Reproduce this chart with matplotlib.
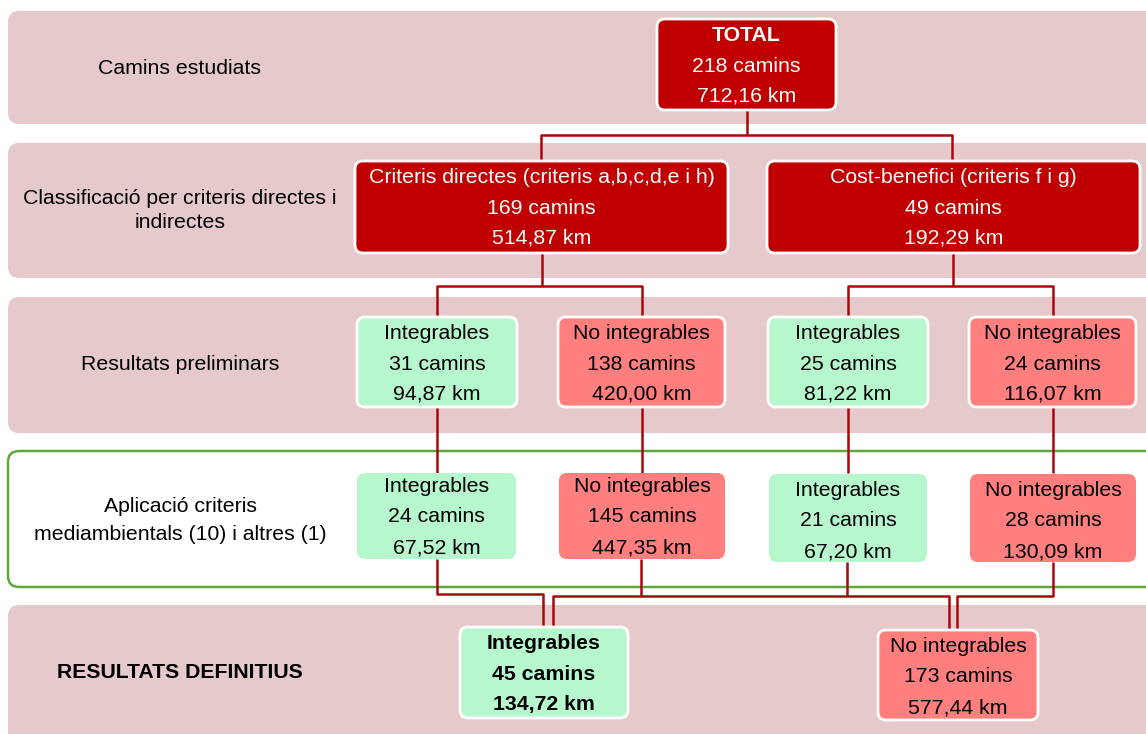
import matplotlib
matplotlib.use('Agg')
import matplotlib.pyplot as plt
from matplotlib.patches import FancyBboxPatch

# Dades del diagrama
titols_nivell = ['Camins estudiats',
                 'Classificació per criteris directes i\nindirectes',
                 'Resultats preliminars',
                 'Aplicació criteris\nmediambientals (10) i altres (1)',
                 'RESULTATS DEFINITIUS']
titols_caixa = ['TOTAL',
                'Criteris directes (criteris a,b,c,d,e i h)', 'Cost-benefici (criteris f i g)',
                'Integrables', 'No integrables', 'Integrables', 'No integrables',
                'Integrables', 'No integrables', 'Integrables', 'No integrables',
                'Integrables', 'No integrables']
camins = [218, 169, 49, 31, 138, 25, 24, 24, 145, 21, 28, 45, 173]
km = [712.16, 514.87, 192.29, 94.87, 420.00, 81.22, 116.07, 67.52, 447.35, 67.20, 130.09,
      134.72, 577.44]

# Colors
rosa = '#E6CACB'
vermell_fosc = '#C00000'
verd = '#B6F7CE'
vermell_clar = '#FF7F7F'
linia = '#A80808'
verd_vora = '#5FA83A'

# caixes: x0, y0, amplada, alçada (pixels)
caixes = [(657, 19, 179, 91),
          (355, 161, 373, 92), (767, 161, 373, 92),
          (357, 317, 160, 90), (558, 317, 167, 90), (768, 317, 160, 90), (969, 317, 167, 90),
          (357, 473, 159, 86), (559, 473, 166, 86), (769, 474, 158, 88), (970, 474, 166, 88),
          (460, 627, 168, 91), (878, 630, 160, 90)]

fig = plt.figure(figsize=(11.46, 7.34), dpi=100)
ax = fig.add_axes([0, 0, 1, 1])
ax.set_xlim(0, 1146)
ax.set_ylim(734, 0)
ax.axis('off')

plt.rcParams['font.family'] = ['Liberation Sans', 'DejaVu Sans']
fs = 15.3

# franges de fons
franges = [(11, 113), (143, 135), (297, 136), (451, 136), (605, 140)]
for i, (y0, h) in enumerate(franges):
    if i == 3:
        p = FancyBboxPatch((8, y0), 1160, h, boxstyle='round,pad=0,rounding_size=11',
                           fc='white', ec=verd_vora, lw=1.8, zorder=1)
    else:
        p = FancyBboxPatch((8, y0), 1160, h, boxstyle='round,pad=0,rounding_size=11',
                           fc=rosa, ec='none', zorder=1)
    ax.add_patch(p)

# titols de nivell
ax.text(180, 69, titols_nivell[0], ha='center', va='center', fontsize=fs)
ax.text(180, 198, titols_nivell[1].split('\n')[0], ha='center', va='center', fontsize=fs)
ax.text(180, 222, titols_nivell[1].split('\n')[1], ha='center', va='center', fontsize=fs)
ax.text(180, 365, titols_nivell[2], ha='center', va='center', fontsize=fs)
ax.text(180, 506, titols_nivell[3].split('\n')[0], ha='center', va='center', fontsize=fs)
ax.text(180, 534, titols_nivell[3].split('\n')[1], ha='center', va='center', fontsize=fs)
ax.text(180, 673, titols_nivell[4], ha='center', va='center', fontsize=fs, fontweight='bold')

# linies de connexio
def seg(xs, ys):
    ax.plot(xs, ys, color=linia, lw=1.8, solid_capstyle='butt', zorder=2)

def baix(i):
    return caixes[i][1] + caixes[i][3]

# total -> nivell 2
seg([747, 747], [baix(0), 135])
seg([541, 541, 952, 952], [161, 135, 135, 161])
# nivell 2 -> 3
seg([542, 542], [baix(1), 286])
seg([437, 437, 642, 642], [317, 286, 286, 317])
seg([953, 953], [baix(2), 286])
seg([848, 848, 1053, 1053], [317, 286, 286, 317])
# nivell 3 -> 4
for xx in [437, 642, 848, 1053]:
    seg([xx, xx], [407, 473])
# nivell 4 -> 5
seg([437, 437, 543, 543], [baix(7), 594, 594, 627])
seg([553, 553, 949, 949], [627, 596, 596, 630])
seg([641, 641], [baix(8), 596])
seg([847, 847], [baix(9), 596])
seg([1053, 1053, 957, 957], [baix(10), 596, 596, 630])

# caixes
for i, (x0, y0, w, h) in enumerate(caixes):
    if i < 3:
        fc = vermell_fosc
        tc = 'white'
    elif titols_caixa[i] == 'Integrables':
        fc = verd
        tc = 'black'
    else:
        fc = vermell_clar
        tc = 'black'
    ec = 'none' if 7 <= i <= 10 else 'white'
    ax.add_patch(FancyBboxPatch((x0, y0), w, h, boxstyle='round,pad=0,rounding_size=8',
                                fc=fc, ec=ec, lw=2, zorder=3))
    centre = x0 + w / 2
    y1 = y0 + 16.5
    if i in (7, 8):
        y1 = y0 + 13.5
    pes1 = 'bold' if i in (0, 11) else 'normal'
    pes = 'bold' if i == 11 else 'normal'
    ax.text(centre, y1, titols_caixa[i], ha='center', va='center', fontsize=fs,
            color=tc, fontweight=pes1, zorder=4)
    ax.text(centre, y1 + 30.5, f'{camins[i]} camins', ha='center', va='center', fontsize=fs,
            color=tc, fontweight=pes, zorder=4)
    ax.text(centre, y1 + 61, f'{km[i]:.2f} km'.replace('.', ','), ha='center', va='center',
            fontsize=fs, color=tc, fontweight=pes, zorder=4)

fig.savefig('out.png', dpi=100)
